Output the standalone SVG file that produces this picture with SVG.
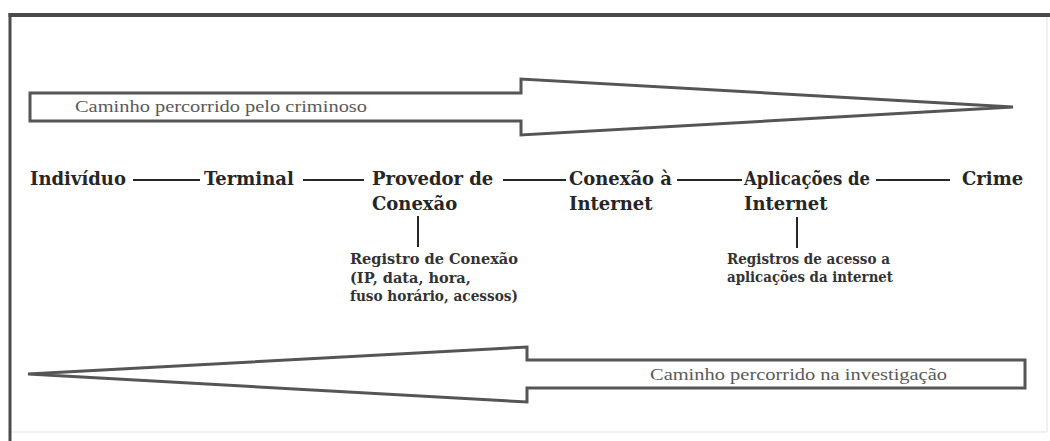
<svg xmlns="http://www.w3.org/2000/svg" width="1050" height="441" viewBox="0 0 1050 441">
<style>
.node{font-family:"DejaVu Serif","Liberation Serif",serif;font-weight:bold;font-size:18px;fill:#262626}
.sub{font-family:"DejaVu Serif","Liberation Serif",serif;font-weight:bold;font-size:14.5px;fill:#333}
.arrowlbl{font-family:"Liberation Serif",serif;font-size:17.5px;fill:#5a5a5a}
.arrow{fill:#fff;stroke:#555;stroke-width:3;stroke-linejoin:miter}
.conn line{stroke:#262626;stroke-width:2}
</style>
<rect width="1050" height="441" fill="#fff"/>
<g id="frame">
<line x1="1047" y1="17" x2="1047" y2="432" stroke="#ececec" stroke-width="1.5"/>
<line x1="10" y1="432" x2="1047" y2="432" stroke="#ececec" stroke-width="1.5"/>
<line x1="8.5" y1="15" x2="1050" y2="15" stroke="#4a4a4a" stroke-width="4"/>
<line x1="10" y1="13" x2="10" y2="441" stroke="#4a4a4a" stroke-width="3"/>
</g>
<g id="arrow-criminoso">
<polygon class="arrow" points="30,93 521,93 521,79 1013,107 521,135 521,121 30,121"/>
<text class="arrowlbl" x="75" y="112" textLength="292" lengthAdjust="spacingAndGlyphs">Caminho percorrido pelo criminoso</text>
</g>
<g id="arrow-investigacao">
<polygon class="arrow" points="1025,360 527,360 527,347 28,374 527,402 527,388 1025,388"/>
<text class="arrowlbl" x="650" y="380" textLength="297" lengthAdjust="spacingAndGlyphs">Caminho percorrido na investigação</text>
</g>
<g id="connectors" class="conn">
<line x1="133" y1="180" x2="200" y2="180"/>
<line x1="303" y1="180" x2="364" y2="180"/>
<line x1="503" y1="180" x2="566" y2="180"/>
<line x1="677" y1="180" x2="742" y2="180"/>
<line x1="876" y1="180" x2="950" y2="180"/>
<line x1="418" y1="216" x2="418" y2="247"/>
<line x1="797" y1="217" x2="797" y2="248"/>
</g>
<g id="n-individuo"><text class="node" x="30" y="185">Indivíduo</text></g>
<g id="n-terminal"><text class="node" x="204" y="185">Terminal</text></g>
<g id="n-provedor"><text class="node" x="372" y="185">Provedor de</text><text class="node" x="372" y="210">Conexão</text></g>
<g id="n-conexao"><text class="node" x="569" y="185" textLength="103" lengthAdjust="spacingAndGlyphs">Conexão à</text><text class="node" x="569" y="210">Internet</text></g>
<g id="n-aplicacoes"><text class="node" x="744" y="185" textLength="126" lengthAdjust="spacingAndGlyphs">Aplicações de</text><text class="node" x="744" y="210">Internet</text></g>
<g id="n-crime"><text class="node" x="962" y="185">Crime</text></g>
<g id="n-registro-conexao">
<text class="sub" x="350" y="264" textLength="168" lengthAdjust="spacingAndGlyphs">Registro de Conexão</text>
<text class="sub" x="350" y="283">(IP, data, hora,</text>
<text class="sub" x="350" y="301" textLength="168" lengthAdjust="spacingAndGlyphs">fuso horário, acessos)</text>
</g>
<g id="n-registros-acesso">
<text class="sub" x="727" y="264" textLength="163" lengthAdjust="spacingAndGlyphs">Registros de acesso a</text>
<text class="sub" x="727" y="282" textLength="166" lengthAdjust="spacingAndGlyphs">aplicações da internet</text>
</g>
</svg>
